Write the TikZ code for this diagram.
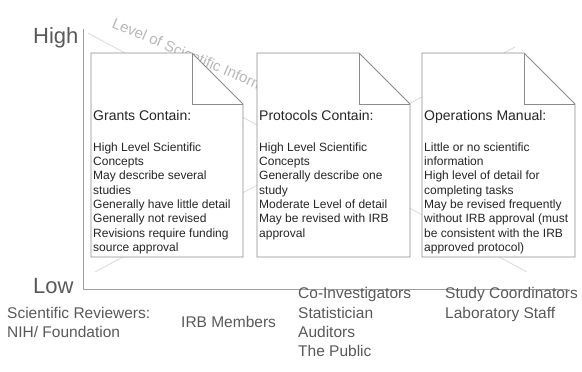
\documentclass[tikz,border=0pt]{standalone}
\usepackage{fontspec}
\setmainfont{Liberation Sans}
\definecolor{axisgray}{HTML}{595959}
\definecolor{axisline}{HTML}{A0A0A0}
\definecolor{boxgray}{HTML}{8C8C8C}
\definecolor{faint}{HTML}{DADADA}
\definecolor{lvlgray}{HTML}{B8B8B8}
\definecolor{txt}{HTML}{262626}
\begin{document}
\begin{tikzpicture}[x=1pt,y=-1pt,
  page/.style={draw=boxgray,fill=white,line width=0.9pt,line join=miter},
  foldline/.style={draw=boxgray,line width=0.9pt},
  hdr/.style={anchor=base west,inner sep=0pt,font=\fontsize{14}{16}\selectfont,text=txt},
  body/.style={anchor=north west,inner sep=0pt,align=left,font=\fontsize{12}{14.3}\selectfont,text=txt},
  axlabel/.style={anchor=base west,inner sep=0pt,font=\fontsize{22}{24}\selectfont,text=axisgray},
  who/.style={inner sep=0pt,align=left,font=\fontsize{15.5}{19.3}\selectfont,text=axisgray},
  faintline/.style={draw=faint,line width=0.8pt},
  axis/.style={draw=axisline,line width=0.9pt}
]
\useasboundingbox (0,0) rectangle (582,372);
% faint background lines
\coordinate (a1) at (88,33);
\coordinate (a2) at (527,272);
\coordinate (b1) at (95,272);
\coordinate (b2) at (515,47);
\draw[faintline] (a1) -- (a2);
\draw[faintline] (b1) -- (b2);
% rotated label (behind pages)
\node[anchor=base west,inner sep=0pt,rotate=-23,font=\fontsize{15}{17}\selectfont,text=lvlgray] (lvl) at (111,27) {Level of Scientific Information};
% axes
\coordinate (ytop) at (83,29);
\coordinate (xend) at (568,289);
\draw[axis] (ytop) |- (xend);
\node[axlabel] (high) at (33,43) {High};
\node[axlabel] (low) at (33,293) {Low};
% page 1
\draw[page] (91,53) -- (192,53) -- (243,104) -- (243,257) -- (91,257) -- cycle;
\draw[foldline] (192,53) -- (192,104) -- (243,104);
% page 2
\draw[page] (257,53) -- (359,53) -- (410,104) -- (410,257) -- (257,257) -- cycle;
\draw[foldline] (359,53) -- (359,104) -- (410,104);
% page 3
\draw[page] (422,53) -- (524,53) -- (575,104) -- (575,257) -- (422,257) -- cycle;
\draw[foldline] (524,53) -- (524,104) -- (575,104);
% texts
\node[hdr] (h1) at (93,120) {Grants Contain:};
\node[body] (t1) at (93,142.5) {High Level Scientific\\Concepts\\May describe several\\studies\\Generally have little detail\\Generally not revised\\Revisions require funding\\source approval};
\node[hdr] (h2) at (259,120) {Protocols Contain:};
\node[body] (t2) at (259,142.5) {High Level Scientific\\Concepts\\Generally describe one\\study\\Moderate Level of detail\\May be revised with IRB\\approval};
\node[hdr] (h3) at (424,120) {Operations Manual:};
\node[body] (t3) at (424,142.5) {Little or no scientific\\information\\High level of detail for\\completing tasks\\May be revised frequently\\without IRB approval (must\\be consistent with the IRB\\approved protocol)};
% audiences
\node[who,anchor=north west] (sci) at (7,307) {Scientific Reviewers:\\NIH/ Foundation};
\node[who,anchor=base west] (irb) at (181,327.5) {IRB Members};
\node[who,anchor=north west] (coi) at (298,287.5) {Co-Investigators\\Statistician\\Auditors\\The Public};
\node[who,anchor=north west] (stc) at (445,287.5) {Study Coordinators\\Laboratory Staff};
\end{tikzpicture}
\end{document}
